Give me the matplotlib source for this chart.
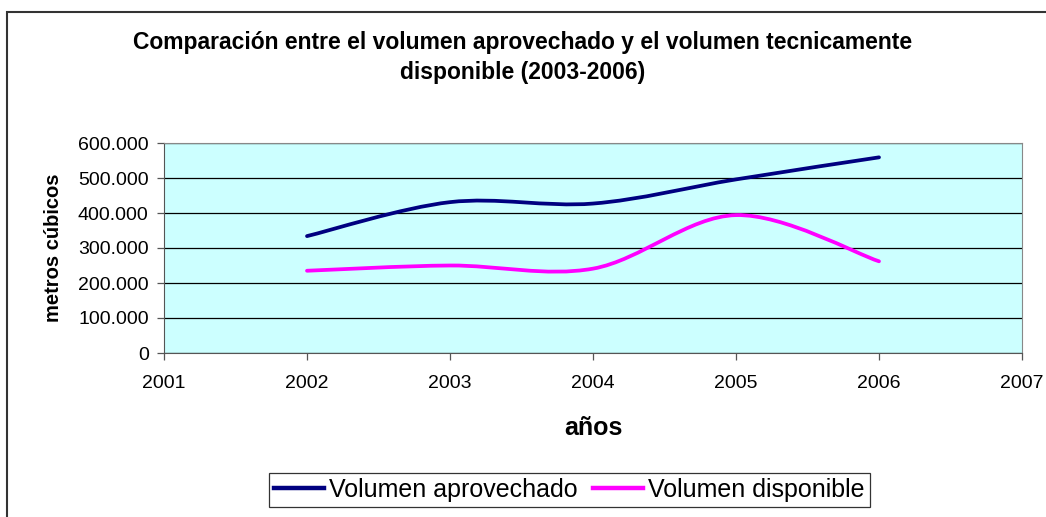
import matplotlib.pyplot as plt
import numpy as np
from matplotlib.path import Path
from matplotlib.patches import PathPatch, Rectangle
from matplotlib.lines import Line2D
from matplotlib.ticker import FuncFormatter

plt.rcParams['font.family'] = ['Liberation Sans', 'DejaVu Sans']

# datos
anios = [2002, 2003, 2004, 2005, 2006]
aprovechado = [334000, 431000, 427000, 496000, 559000]
disponible = [235000, 250000, 241000, 394000, 262000]

series = [
    ("Volumen aprovechado", aprovechado, "#000080"),
    ("Volumen disponible", disponible, "#FF00FF"),
]


# curva suavizada tipo Excel (bezier con puntos de control de Catmull-Rom)
def smooth_path(x, y):
    pts = np.column_stack([x, y]).astype(float)
    ext = np.vstack([pts[0], pts, pts[-1]])
    verts = [pts[0]]
    codes = [Path.MOVETO]
    for i in range(len(pts) - 1):
        p0, p1, p2, p3 = ext[i], ext[i + 1], ext[i + 2], ext[i + 3]
        c1 = p1 + (p2 - p0) / 6
        c2 = p2 - (p3 - p1) / 6
        verts += [c1, c2, p2]
        codes += [Path.CURVE4] * 3
    return Path(verts, codes)


fig = plt.figure(figsize=(10.46, 5.17), dpi=100)
ax = fig.add_axes([164 / 1046, 1 - 353 / 517, (1022 - 164) / 1046, (353 - 143) / 517])
ax.set_facecolor("#CCFFFF")

for nombre, vals, color in series:
    patch = PathPatch(smooth_path(anios, vals), facecolor="none", edgecolor=color,
                      lw=2.7, capstyle="round", joinstyle="round", zorder=3)
    ax.add_patch(patch)

ax.set_xlim(2001, 2007)
ax.set_ylim(0, 600000)
ax.set_xticks(range(2001, 2008))
ax.set_yticks(range(0, 600001, 100000))
ax.yaxis.set_major_formatter(FuncFormatter(lambda v, p: f"{int(v):,}".replace(",", ".")))
ax.grid(axis="y", color="black", lw=0.9)
ax.set_axisbelow(True)
ax.tick_params(labelsize=14, length=5, width=0.9, color="#555555")
ax.tick_params(axis="x", pad=11)
ax.tick_params(axis="y", pad=6)
for s in ["top", "right"]:
    ax.spines[s].set_color("#888888")
for s in ["left", "bottom"]:
    ax.spines[s].set_color("#555555")

ax.set_ylabel("metros cúbicos", fontsize=14.5, fontweight="bold", labelpad=11)
ax.set_xlabel("años", fontsize=18, fontweight="bold", labelpad=17)

fig.text(0.5, 1 - 43 / 517, "Comparación entre el volumen aprovechado y el volumen tecnicamente",
         ha="center", va="center", fontsize=16.5, fontweight="bold")
fig.text(0.5, 1 - 73 / 517, "disponible (2003-2006)",
         ha="center", va="center", fontsize=16.5, fontweight="bold")

handles = [Line2D([], [], color=c, lw=3.2) for _, _, c in series]
leg = fig.legend(handles, [n for n, _, _ in series], loc="center",
                 bbox_to_anchor=(569.5 / 1046, 1 - 489.5 / 517), ncol=2, fontsize=18,
                 frameon=True, fancybox=False, handlelength=2.0, handletextpad=0.2,
                 columnspacing=0.6, borderpad=0.2, borderaxespad=0)
leg.get_frame().set_edgecolor("black")
leg.get_frame().set_linewidth(0.9)

fig.patches.append(Rectangle((7 / 1046, -0.1), 1.2, 1.1 - 12 / 517, transform=fig.transFigure,
                             fill=False, edgecolor="#333333", lw=1.5))

fig.savefig("out.png", dpi=100)
